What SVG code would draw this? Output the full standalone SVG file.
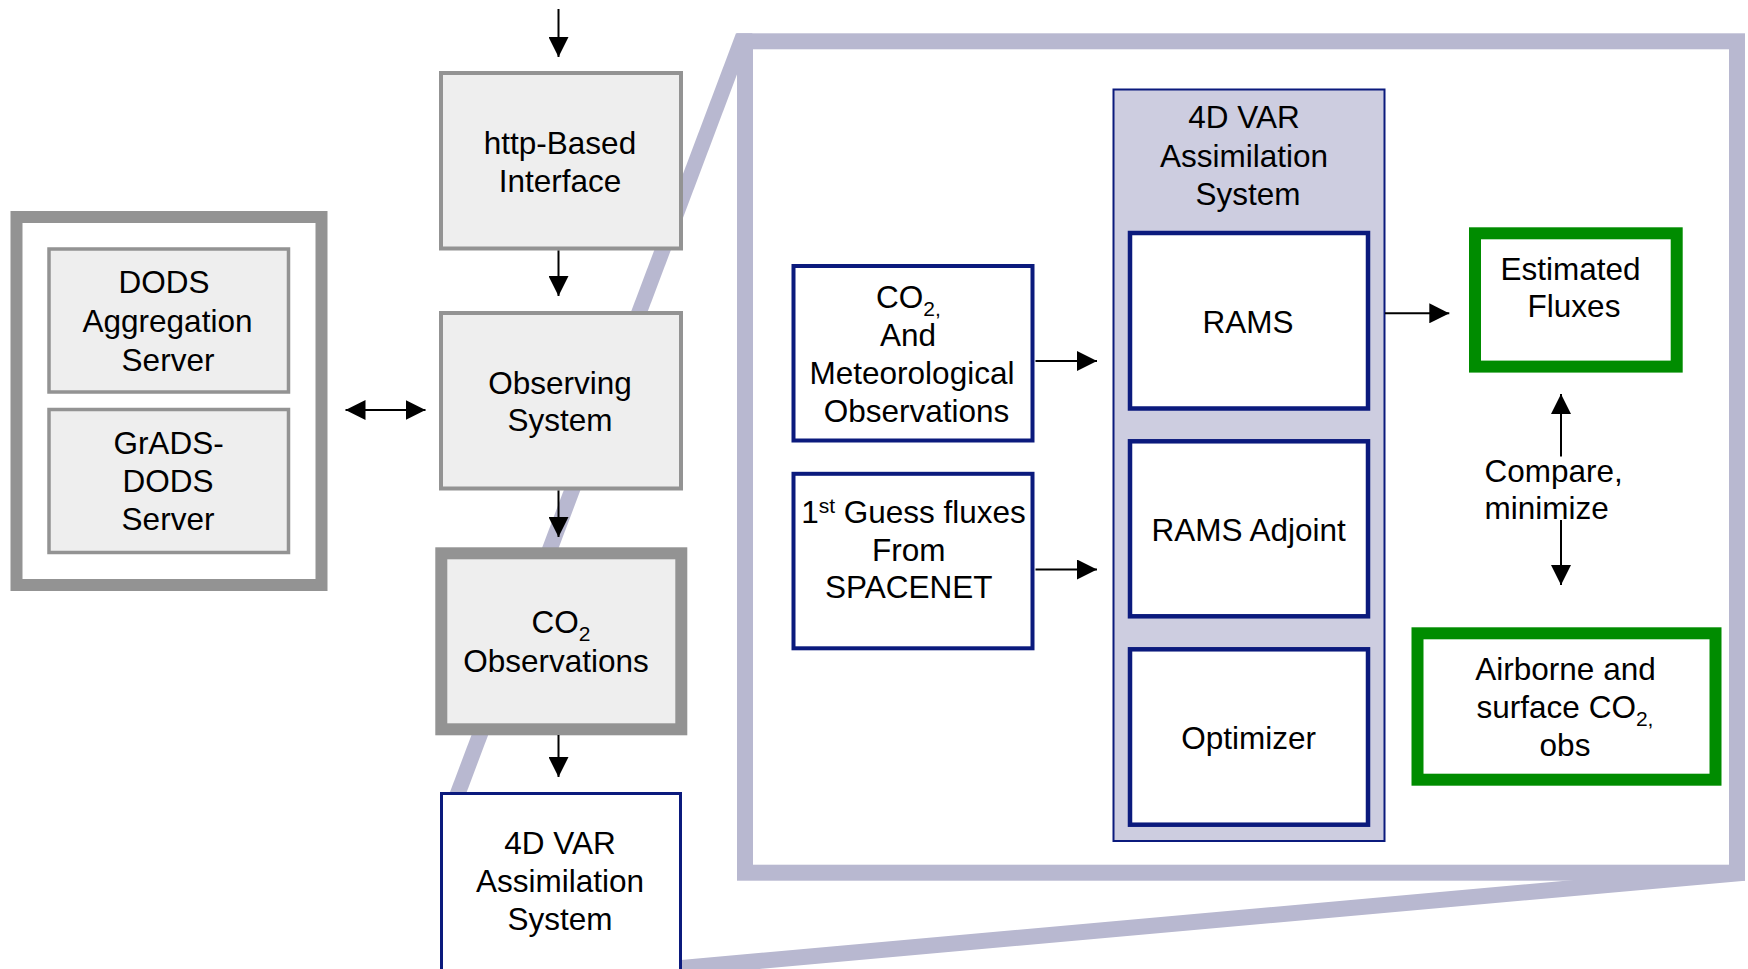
<svg xmlns="http://www.w3.org/2000/svg" width="1748" height="969" viewBox="0 0 1748 969">
<defs>
<marker id="ah" markerUnits="userSpaceOnUse" markerWidth="20" markerHeight="20" refX="20" refY="10" orient="auto-start-reverse" viewBox="0 0 20 20">
<path d="M0,0 L20,10 L0,20 z" fill="#000"/>
</marker>
</defs>
<style>
text { font-family: "Liberation Sans", Arial, sans-serif; font-size: 31.5px; fill: #000; text-anchor: middle; }
.sub { font-size: 21px; }
.gray { fill: #eeeeee; stroke: #939393; stroke-width: 4; }
.navy { fill: #ffffff; stroke: #0b1a7d; stroke-width: 4.5; }
.green { fill: #ffffff; stroke: #008c00; stroke-width: 12; }
.conn { stroke: #000; stroke-width: 2; fill: none; marker-end: url(#ah); }
.band { fill: #b8b8d0; }
</style>
<rect x="0" y="0" width="1748" height="969" fill="#ffffff"/>
<g id="zoom-frame">
<polygon class="band" points="736,33.3 752.5,33.3 463.7,800 447,800"/>
<polygon class="band" points="1745,864.6 1745,880.7 670,977 670,961"/>
<rect x="745" y="41.3" width="992" height="831.4" fill="none" stroke="#b8b8d0" stroke-width="16"/>
</g>
<g id="servers">
<rect x="16.5" y="217" width="305" height="368" fill="#ffffff" stroke="#939393" stroke-width="12"/>
</g>
<g id="dods-aggregation">
<rect class="gray" x="49" y="249" width="239.5" height="143" style="stroke-width:3.5"/>
<text x="164" y="293">DODS</text>
<text x="167.5" y="332">Aggregation</text>
<text x="168" y="370.5">Server</text>
</g>
<g id="grads-dods">
<rect class="gray" x="49" y="409.5" width="239.5" height="143" style="stroke-width:3.5"/>
<text x="168.5" y="453.5">GrADS-</text>
<text x="168" y="491.8">DODS</text>
<text x="168" y="530">Server</text>
</g>
<g id="http-interface">
<rect class="gray" x="441" y="73" width="240" height="175.5"/>
<text x="560" y="153.5">http-Based</text>
<text x="560" y="191.5">Interface</text>
</g>
<g id="observing-system">
<rect class="gray" x="441" y="313" width="240" height="175.5"/>
<text x="560" y="393.5">Observing</text>
<text x="560" y="431">System</text>
</g>
<g id="co2-observations">
<rect class="gray" x="441.3" y="553.3" width="240" height="176" style="stroke-width:12"/>
<text x="561" y="633.3">CO<tspan class="sub" dy="8">2</tspan></text>
<text x="556" y="671.7">Observations</text>
</g>
<g id="var-system-small">
<rect class="navy" x="441.5" y="793.5" width="239" height="200" style="stroke-width:3"/>
<text x="560" y="854">4D VAR</text>
<text x="560" y="892">Assimilation</text>
<text x="560" y="930">System</text>
</g>
<g id="var-system">
<rect x="1113.5" y="89.5" width="271" height="751.5" fill="#cdcde0" stroke="#0b1a7d" stroke-width="2"/>
<text x="1244" y="128.3">4D VAR</text>
<text x="1244" y="166.7">Assimilation</text>
<text x="1248" y="205">System</text>
</g>
<g id="rams">
<rect class="navy" x="1130" y="233" width="238" height="175.5"/>
<text x="1248" y="333.3">RAMS</text>
</g>
<g id="rams-adjoint">
<rect class="navy" x="1130" y="441.3" width="238" height="175"/>
<text x="1248.6" y="540.5">RAMS Adjoint</text>
</g>
<g id="optimizer">
<rect class="navy" x="1130" y="649.3" width="238" height="175.4"/>
<text x="1248.6" y="749">Optimizer</text>
</g>
<g id="co2-met-obs">
<rect class="navy" x="793.5" y="266" width="239" height="174.5" style="stroke-width:4"/>
<text x="908.5" y="307.5">CO<tspan class="sub" dy="8">2,</tspan></text>
<text x="908" y="345.5">And</text>
<text x="912" y="383.5">Meteorological</text>
<text x="916.5" y="421.5">Observations</text>
</g>
<g id="first-guess">
<rect class="navy" x="793.5" y="473.8" width="239" height="174.5" style="stroke-width:4"/>
<text x="913.5" y="522.5">1<tspan class="sub" dy="-10">st</tspan><tspan dy="10"> Guess fluxes</tspan></text>
<text x="908.7" y="560.5">From</text>
<text x="908.8" y="597.5">SPACENET</text>
</g>
<g id="estimated-fluxes">
<rect class="green" x="1475" y="233.3" width="201.7" height="133.3"/>
<text x="1570.5" y="279.5">Estimated</text>
<text x="1574" y="317">Fluxes</text>
</g>
<g id="compare-label">
<text x="1484.5" y="481.5" style="text-anchor:start">Compare,</text>
<text x="1484.5" y="519" style="text-anchor:start">minimize</text>
</g>
<g id="airborne-obs">
<rect class="green" x="1417.5" y="633.3" width="298" height="146.4"/>
<text x="1565.5" y="680">Airborne and</text>
<text x="1565" y="718">surface CO<tspan class="sub" dy="8">2,</tspan></text>
<text x="1565" y="756">obs</text>
</g>
<g id="connectors">
<path class="conn" d="M558.5,9 V57"/>
<path class="conn" d="M558.5,250.5 V296"/>
<path class="conn" d="M558.5,490.5 V537"/>
<path class="conn" d="M558.5,735 V777"/>
<path class="conn" d="M345.5,410 H425.5" marker-start="url(#ah)"/>
<path class="conn" d="M1035.5,361 H1097"/>
<path class="conn" d="M1035.5,569.5 H1097"/>
<path class="conn" d="M1385,313.3 H1449.3"/>
<path class="conn" d="M1561,456.5 V394"/>
<path class="conn" d="M1561,520 V585"/>
</g>
</svg>
